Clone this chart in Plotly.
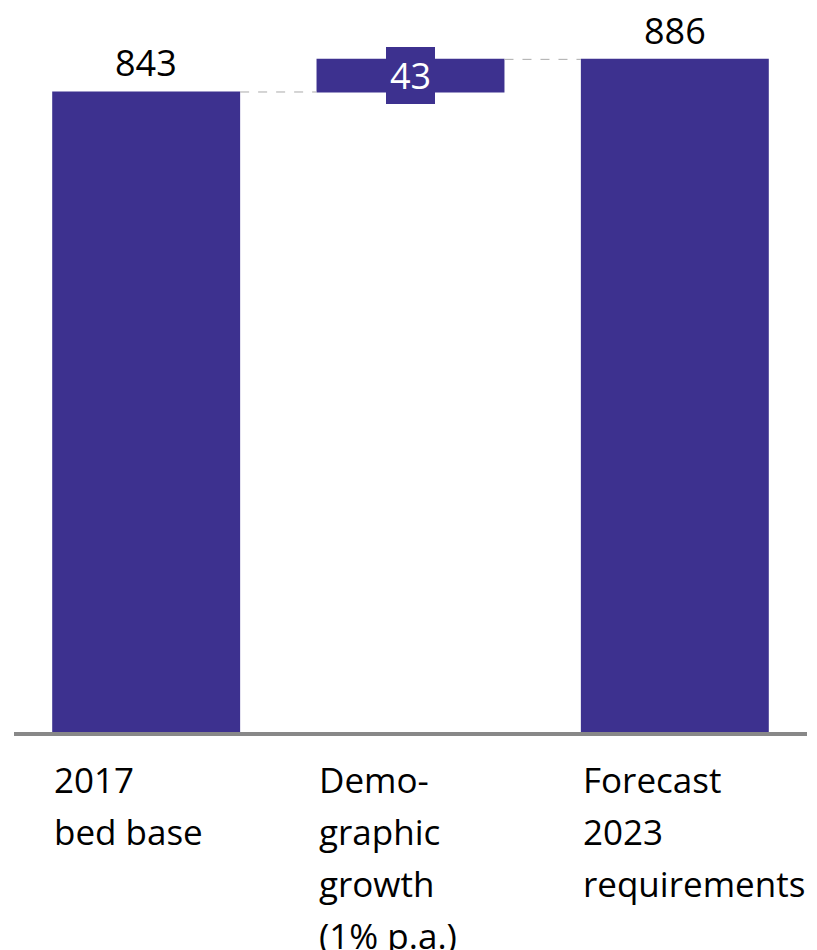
import plotly.graph_objects as go

categories = ["2017 bed base", "Demographic growth", "Forecast 2023 requirements"]
measures = ["absolute", "relative", "total"]
values = [843, 43, 886]
value_labels = ["843", "43", "886"]
label_lines = [
    ["2017", "bed base"],
    ["Demo-", "graphic", "growth", "(1% p.a.)"],
    ["Forecast", "2023", "requirements"],
]

BAR = "#3D318F"
FONT = "Open Sans"

fig = go.Figure(go.Waterfall(
    x=categories,
    y=values,
    measure=measures,
    increasing=dict(marker=dict(color=BAR)),
    decreasing=dict(marker=dict(color=BAR)),
    totals=dict(marker=dict(color=BAR)),
    connector=dict(mode="between", line=dict(color="#AAAAAA", width=1, dash="dash")),
    textinfo="none",
    hoverinfo="skip",
))

# value labels
running = 0
for i, (m, v, t) in enumerate(zip(measures, values, value_labels)):
    if m == "relative":
        mid = running + v / 2
        fig.add_annotation(x=categories[i], y=mid, xref="x", yref="y", text=t,
                           showarrow=False, font=dict(family=FONT, size=36, color="white"),
                           bgcolor=BAR, borderpad=2, borderwidth=2, bordercolor=BAR,
                           yanchor="middle")
        running += v
    else:
        running = v
        fig.add_annotation(x=categories[i], y=v, xref="x", yref="y", text=t,
                           showarrow=False, font=dict(family=FONT, size=36, color="black"),
                           yanchor="middle", yshift=29)

# category labels, left aligned at bar left edge
for i, lines in enumerate(label_lines):
    for k, line in enumerate(lines):
        fig.add_annotation(x=categories[i], y=0, xref="x", yref="paper", text=line,
                           showarrow=False, xanchor="left", yanchor="middle",
                           xshift=-94, yshift=-47 - 52 * k,
                           font=dict(family=FONT, size=35, color="black"))

fig.update_layout(
    width=809, height=942,
    margin=dict(l=6, r=10, t=2, b=218),
    plot_bgcolor="white", paper_bgcolor="white",
    showlegend=False,
    waterfallgap=0.289,
    font=dict(family=FONT),
)
fig.update_xaxes(showticklabels=False, showline=True, linecolor="#888888", linewidth=4,
                 ticks="", showgrid=False, zeroline=False, range=[-0.5, 2.5])
fig.update_yaxes(visible=False, range=[0, 951], showgrid=False, zeroline=False)

fig.write_html("out.html")
